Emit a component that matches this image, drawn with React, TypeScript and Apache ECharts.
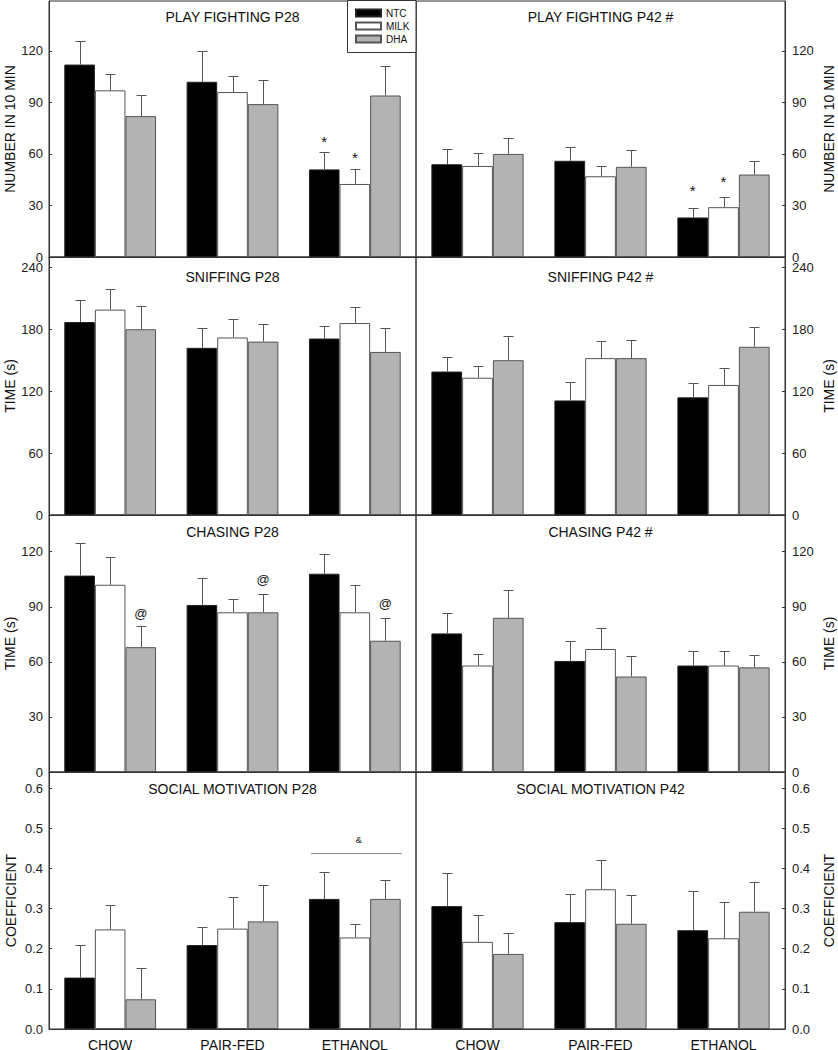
import React, { useEffect, useRef } from 'react';
import * as echarts from 'echarts';

// ---------- DATA ----------
const categories = ['CHOW', 'PAIR-FED', 'ETHANOL'];
const groups = ['NTC', 'MILK', 'DHA'];

// rows = groups (NTC, MILK, DHA), columns = categories
const playP28Mean = [[112, 102, 51], [97, 96, 42.5], [82, 89, 94]];
const playP28Err = [[14, 18, 10], [9.5, 9.5, 9], [12, 14, 17]];
const playP42Mean = [[54, 56, 23], [53, 47, 29], [60, 52.5, 48]];
const playP42Err = [[9, 8, 5.5], [7.5, 6, 6], [9.5, 9.5, 8]];

const sniffP28Mean = [[187, 162, 171], [199, 172, 186], [180, 168, 158]];
const sniffP28Err = [[21, 19, 12], [20, 18, 16], [23, 17, 23]];
const sniffP42Mean = [[139, 111, 114], [133, 152, 126], [150, 152, 163]];
const sniffP42Err = [[14, 18, 14], [11, 17, 16.5], [23, 18, 19]];

const chaseP28Mean = [[107, 91, 108], [102, 87, 87], [68, 87, 71.5]];
const chaseP28Err = [[17.5, 14.5, 11], [15, 7.5, 15], [11.5, 10, 12.5]];
const chaseP42Mean = [[75.5, 60.5, 58], [58, 67, 58], [84, 52, 57]];
const chaseP42Err = [[11, 11, 8], [6.5, 11.5, 8], [15, 11, 7]];

const socialP28Mean = [[0.128, 0.209, 0.324], [0.248, 0.25, 0.228], [0.074, 0.268, 0.324]];
const socialP28Err = [[0.08, 0.045, 0.067], [0.062, 0.078, 0.034], [0.078, 0.09, 0.048]];
const socialP42Mean = [[0.306, 0.266, 0.246], [0.217, 0.348, 0.226], [0.187, 0.262, 0.292]];
const socialP42Err = [[0.082, 0.071, 0.097], [0.068, 0.072, 0.09], [0.053, 0.071, 0.075]];

// significance marks: [panelKey, groupIndex, categoryIndex, text, value (centre of mark)]
const sigMarks: [string, number, number, string, number][] = [
  ['playP28', 0, 2, '*', 69.8],
  ['playP28', 1, 2, '*', 60.5],
  ['playP42', 0, 2, '*', 40.8],
  ['playP42', 1, 2, '*', 46],
  ['chaseP28', 2, 0, '@', 86.2],
  ['chaseP28', 2, 1, '@', 104.9],
  ['chaseP28', 2, 2, '@', 91.6],
];
// bracket over a category: [panelKey, categoryIndex, lineValue, textValue, text]
const brackets: [string, number, number, number, string][] = [
  ['socialP28', 2, 0.438, 0.47, '&'],
];

const panels = [
  { key: 'playP28', title: 'PLAY FIGHTING P28', mean: playP28Mean, err: playP28Err, row: 0, col: 0 },
  { key: 'playP42', title: 'PLAY FIGHTING P42 #', mean: playP42Mean, err: playP42Err, row: 0, col: 1 },
  { key: 'sniffP28', title: 'SNIFFING P28', mean: sniffP28Mean, err: sniffP28Err, row: 1, col: 0 },
  { key: 'sniffP42', title: 'SNIFFING P42 #', mean: sniffP42Mean, err: sniffP42Err, row: 1, col: 1 },
  { key: 'chaseP28', title: 'CHASING P28', mean: chaseP28Mean, err: chaseP28Err, row: 2, col: 0 },
  { key: 'chaseP42', title: 'CHASING P42 #', mean: chaseP42Mean, err: chaseP42Err, row: 2, col: 1 },
  { key: 'socialP28', title: 'SOCIAL MOTIVATION P28', mean: socialP28Mean, err: socialP28Err, row: 3, col: 0 },
  { key: 'socialP42', title: 'SOCIAL MOTIVATION P42', mean: socialP42Mean, err: socialP42Err, row: 3, col: 1 },
];

// ---------- LAYOUT / STYLE ----------
const FONT = '"Liberation Sans", Arial, Helvetica, sans-serif';
const LINE = '#333';
const ERR = '#555';
const FILLS = ['#000000', '#ffffff', '#b3b3b3'];
const BORDERS = ['#222', '#555', '#555'];

const COLS = [
  { left: 49, right: 422, pos: 'left', nameGap: 31, labelMargin: 6 },
  { left: 416, right: 53, pos: 'right', nameGap: 37, labelMargin: 7 },
];
const ROWS = [
  { top: 1, height: 256, max: 149, interval: 30, name: 'NUMBER IN 10 MIN', dec: 0, titleTop: 10 },
  { top: 257, height: 258, max: 250, interval: 60, name: 'TIME (s)', dec: 0, titleTop: 270 },
  { top: 515, height: 257, max: 140, interval: 30, name: 'TIME (s)', dec: 0, titleTop: 525 },
  { top: 772, height: 257, max: 0.64, interval: 0.1, name: 'COEFFICIENT', dec: 1, titleTop: 782 },
];

function buildOption() {
  const grid: any[] = [];
  const xAxis: any[] = [];
  const yAxis: any[] = [];
  const series: any[] = [];
  const title: any[] = [];

  panels.forEach((p, i) => {
    const c = COLS[p.col];
    const r = ROWS[p.row];
    grid.push({
      left: c.left, right: c.right, top: r.top, height: r.height,
      show: true, borderColor: LINE, borderWidth: 1, containLabel: false,
      outerBoundsMode: 'none',
    });
    const plotW = 838 - c.left - c.right;
    title.push({
      text: p.title,
      left: c.left + plotW / 2,
      top: r.titleTop,
      textAlign: 'center',
      padding: 0,
      textStyle: { fontSize: 14, fontWeight: 'normal', color: '#111', fontFamily: FONT },
    });
    xAxis.push({
      type: 'category', gridIndex: i, data: categories,
      axisLine: { show: true, lineStyle: { color: LINE, width: 1 } },
      axisTick: { show: false },
      axisLabel: { show: p.row === 3, fontSize: 14, color: '#111', margin: 9, fontFamily: FONT },
      splitLine: { show: false },
    });
    yAxis.push({
      type: 'value', gridIndex: i, position: c.pos,
      min: 0, max: r.max, interval: r.interval,
      name: r.name, nameLocation: 'middle', nameGap: c.nameGap, nameRotate: 90,
      nameTextStyle: { fontSize: 14, color: '#111', fontFamily: FONT },
      axisLine: { show: true, lineStyle: { color: LINE, width: 1 } },
      axisTick: { show: true, inside: true, length: 3, lineStyle: { color: LINE } },
      axisLabel: {
        fontSize: 13, color: '#222', margin: c.labelMargin, fontFamily: FONT,
        showMaxLabel: false,
        formatter: (v: number) => v.toFixed(r.dec),
      },
      splitLine: { show: false },
    });

    groups.forEach((g, gi) => {
      series.push({
        type: 'bar', name: g, xAxisIndex: i, yAxisIndex: i,
        data: p.mean[gi],
        barGap: '0%', barCategoryGap: '25%',
        itemStyle: { color: FILLS[gi], borderColor: BORDERS[gi], borderWidth: 1 },
        silent: true,
      });
    });

    // error bars
    const errData: number[][] = [];
    groups.forEach((g, gi) => {
      categories.forEach((cat, ci) => {
        errData.push([ci, p.mean[gi][ci], p.err[gi][ci], gi]);
      });
    });
    series.push({
      type: 'custom', xAxisIndex: i, yAxisIndex: i, silent: true, z: 3,
      encode: { x: 0, y: 1 },
      data: errData,
      renderItem: (params: any, api: any) => {
        const ci = api.value(0);
        const v = api.value(1);
        const e = api.value(2);
        const gi = api.value(3);
        const band = api.size([1, 0])[0];
        const bw = band * 0.75 / 3;
        const cx = Math.round(api.coord([ci, 0])[0] + (gi - 1) * bw) + 0.5;
        const yTop = Math.round(api.coord([ci, v + e])[1]) + 0.5;
        const yBase = api.coord([ci, v])[1];
        const st = { stroke: ERR, lineWidth: 1 };
        return {
          type: 'group',
          children: [
            { type: 'line', shape: { x1: cx, y1: yBase, x2: cx, y2: yTop }, style: st },
            { type: 'line', shape: { x1: cx - 5, y1: yTop, x2: cx + 5, y2: yTop }, style: st },
          ],
        };
      },
    });

    // significance marks
    const marks = sigMarks.filter((m) => m[0] === p.key);
    if (marks.length) {
      series.push({
        type: 'custom', xAxisIndex: i, yAxisIndex: i, silent: true, z: 4,
        encode: { x: 0, y: 1 },
        data: marks.map((m) => [m[2], m[4], m[1]]),
        renderItem: (params: any, api: any) => {
          const m = marks[params.dataIndex];
          const ci = api.value(0);
          const gi = api.value(2);
          const band = api.size([1, 0])[0];
          const bw = band * 0.75 / 3;
          const cx = api.coord([ci, 0])[0] + (gi - 1) * bw;
          const cy = api.coord([ci, api.value(1)])[1];
          const isStar = m[3] === '*';
          return {
            type: 'text',
            style: {
              text: m[3], x: cx, y: cy + (isStar ? 4 : 0),
              align: 'center', verticalAlign: 'middle',
              fontSize: isStar ? 15 : 13, fontFamily: FONT, fill: '#111',
            },
          };
        },
      });
    }

    const brs = brackets.filter((b) => b[0] === p.key);
    if (brs.length) {
      series.push({
        type: 'custom', xAxisIndex: i, yAxisIndex: i, silent: true, z: 4,
        encode: { x: 0, y: 1 },
        data: brs.map((b) => [b[1], b[2], b[3]]),
        renderItem: (params: any, api: any) => {
          const b = brs[params.dataIndex];
          const ci = api.value(0);
          const band = api.size([1, 0])[0];
          const half = band * 0.75 / 2;
          const cx = api.coord([ci, 0])[0];
          const ly = Math.round(api.coord([ci, api.value(1)])[1]) + 0.5;
          const ty = api.coord([ci, api.value(2)])[1];
          return {
            type: 'group',
            children: [
              { type: 'line', shape: { x1: cx - half + 2, y1: ly, x2: cx + half + 1, y2: ly }, style: { stroke: '#888', lineWidth: 1 } },
              { type: 'text', style: { text: b[4], x: cx + 4, y: ty, align: 'center', verticalAlign: 'middle', fontSize: 9, fontFamily: FONT, fill: '#222' } },
            ],
          };
        },
      });
    }
  });

  return {
    animation: false,
    backgroundColor: '#ffffff',
    title,
    grid,
    xAxis,
    yAxis,
    series,
    legend: {
      data: groups,
      orient: 'vertical',
      left: 355,
      top: 7.5,
      itemWidth: 25,
      itemHeight: 7,
      itemGap: 2,
      icon: 'rect',
      padding: 0,
      selectedMode: false,
      z: 20,
      textStyle: { fontSize: 10, lineHeight: 11, color: '#111', fontFamily: FONT },
    },
    graphic: [
      {
        type: 'rect', z: 10,
        shape: { x: 347.5, y: 0.5, width: 68.5, height: 52 },
        style: { fill: '#ffffff', stroke: LINE, lineWidth: 1 },
      },
    ],
  };
}

export default function App() {
  const ref = useRef<HTMLDivElement>(null);
  useEffect(() => {
    if (!ref.current) return;
    const chart = echarts.init(ref.current, null, { renderer: 'svg' });
    chart.setOption(buildOption() as any);
    return () => chart.dispose();
  }, []);
  return (
    <div
      ref={ref}
      style={{ position: 'absolute', left: 0, top: 0, width: 838, height: 1050, background: '#fff' }}
    />
  );
}
